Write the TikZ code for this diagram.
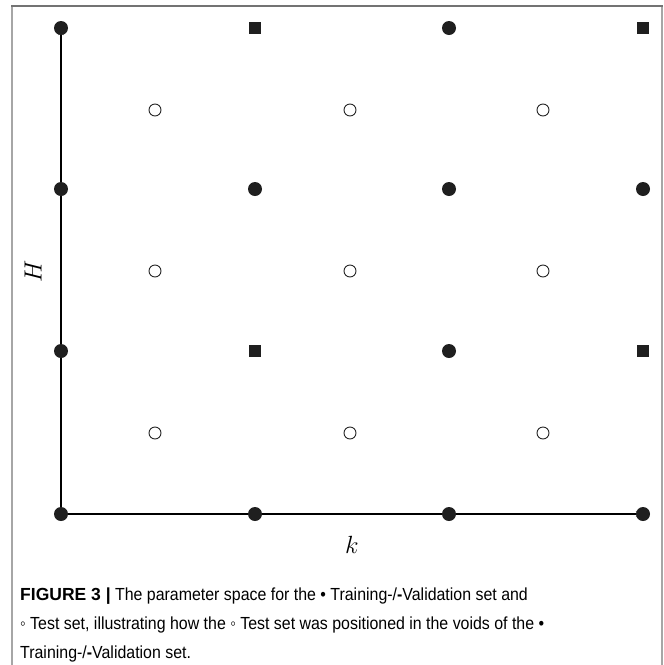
\documentclass[tikz,border=0pt]{standalone}
\usepackage{fontspec}
\newfontfamily\capfont[FakeStretch=0.91]{Liberation Sans}
\newfontfamily\capfontb{Liberation Sans}
\usetikzlibrary{arrows.meta}
\pgfdeclarelayer{bg}
\pgfsetlayers{bg,main}
\begin{document}
\begin{tikzpicture}[x=1pt,y=-1pt,
  train/.style={circle,fill=black!88,inner sep=0pt,minimum size=14pt},
  testpt/.style={circle,draw=black!85,line width=0.9pt,fill=white,inner sep=0pt,minimum size=12pt},
  sqpt/.style={rectangle,fill=black!88,inner sep=0pt,minimum size=12pt},
  axis/.style={line width=1.3pt,-{Stealth[length=7pt,width=5pt]}},
  framel/.style={draw=black!35,line width=1.8pt},
  mathlbl/.style={inner sep=0pt,font=\fontsize{27}{30}\selectfont}]
\useasboundingbox (0,0) rectangle (664,665);
% frame
\draw[framel] (12,665) -- (12,6);
\draw[framel] (662,6) -- (662,665);
\draw[draw=black!55,line width=2pt] (11,6) -- (663,6);
% grid points
\foreach \c/\x in {0/61,1/255,2/449,3/643}{
  \node[train] (p-\c-0) at (\x,514) {};
  \node[train] (p-\c-2) at (\x,189) {};
}
\foreach \c/\x/\s in {0/61/train,1/255/sqpt,2/449/train,3/643/sqpt}{
  \node[\s] (p-\c-1) at (\x,351) {};
  \node[\s] (p-\c-3) at (\x,28) {};
}
\foreach \c/\x in {0/155,1/350,2/543}{
  \foreach \r/\y in {0/433,1/271,2/110}{
    \node[testpt] (t-\c-\r) at (\x,\y) {};
  }
}
\begin{pgfonlayer}{bg}
\draw[axis] (p-0-0.center) -- (p-0-3.center);
\draw[axis] (p-0-0.center) -- (p-3-0.center);
\end{pgfonlayer}
% axis labels
\node[mathlbl,rotate=90] (hlabel) at (33,271) {$H$};
\node[mathlbl,anchor=base] (klabel) at (352,553) {$k$};
% caption
\node[anchor=base west,align=left,inner sep=0pt,
  font=\capfont\fontsize{17.5}{29}\selectfont] (cap) at (20,658)
  {{\capfontb\bfseries FIGURE 3 |} The parameter space for the • Training-/\textbf{-}Validation set and\\
   ◦ Test set, illustrating how the ◦ Test set was positioned in the voids of the •\\
   Training-/\textbf{-}Validation set.};
\end{tikzpicture}
\end{document}
